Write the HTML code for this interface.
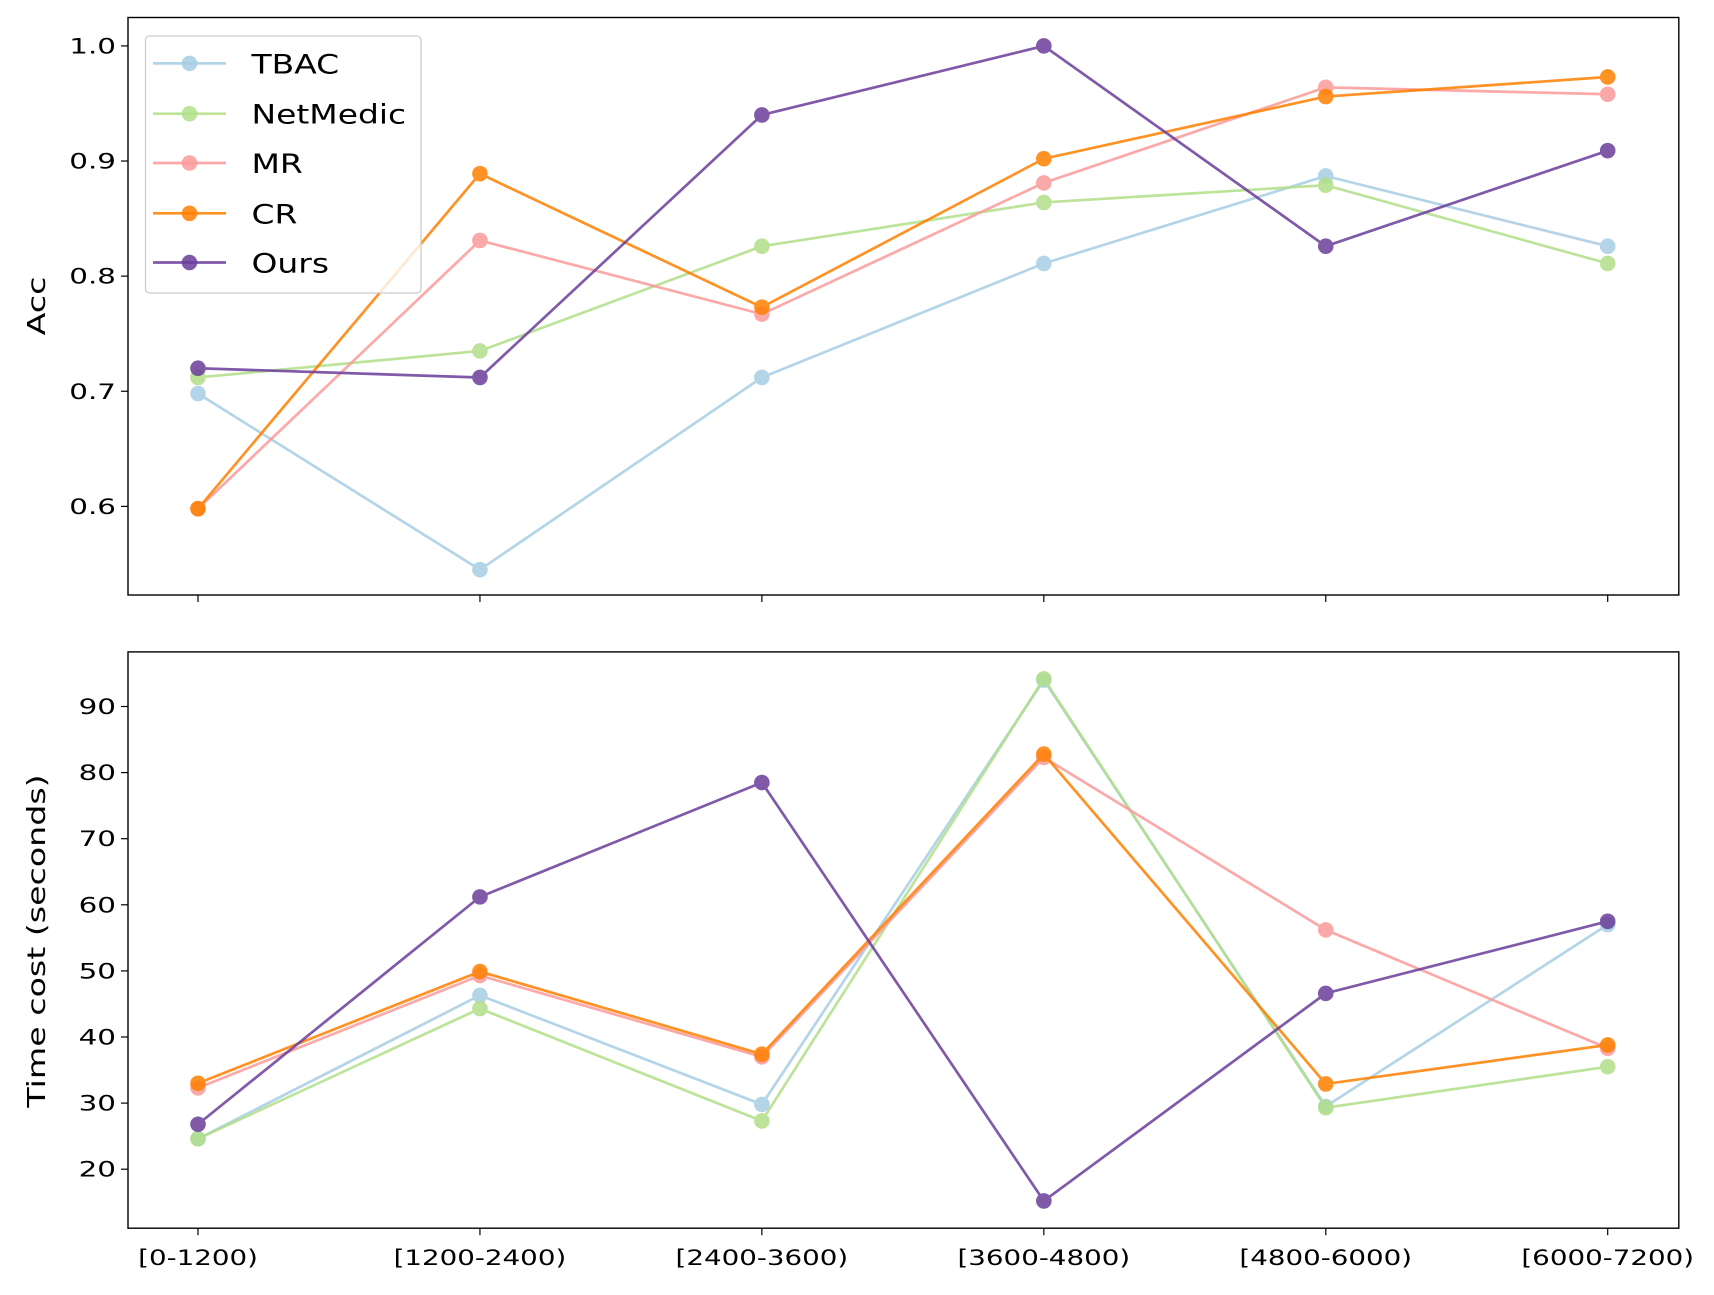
<!DOCTYPE html>
<html><head><meta charset="utf-8"><style>
body{margin:0;background:#fff}
svg{display:block;font-family:"DejaVu Sans","Liberation Sans",sans-serif}
</style></head><body>
<svg id="chart" width="1714" height="1295" xmlns="http://www.w3.org/2000/svg"></svg>
<script>
const categories=["[0-1200)","[1200-2400)","[2400-3600)","[3600-4800)","[4800-6000)","[6000-7200)"];
const seriesNames=["TBAC","NetMedic","MR","CR","Ours"];
const colors=["#a6cee3","#b2df8a","#fb9a99","#ff7f00","#6a3d9a"];
const accTBAC=[0.698,0.545,0.712,0.811,0.887,0.826];
const accNetMedic=[0.712,0.735,0.826,0.864,0.879,0.811];
const accMR=[0.598,0.831,0.767,0.881,0.964,0.958];
const accCR=[0.598,0.889,0.773,0.902,0.956,0.973];
const accOurs=[0.720,0.712,0.940,1.000,0.826,0.909];
const timeTBAC=[24.6,46.3,29.8,94.0,29.5,57.0];
const timeNetMedic=[24.6,44.3,27.3,94.2,29.3,35.5];
const timeMR=[32.3,49.3,37.0,82.3,56.2,38.3];
const timeCR=[33.0,49.9,37.4,82.8,32.9,38.8];
const timeOurs=[26.8,61.2,78.5,15.2,46.6,57.5];
const accTicks=[0.6,0.7,0.8,0.9,1.0];
const accTickLabels=["0.6","0.7","0.8","0.9","1.0"];
const timeTicks=[20,30,40,50,60,70,80,90];
const timeTickLabels=["20","30","40","50","60","70","80","90"];

const NS="http://www.w3.org/2000/svg";
const svg=document.getElementById('chart');
function mk(tag,attrs,parent){const e=document.createElementNS(NS,tag);for(const k in attrs)e.setAttribute(k,attrs[k]);(parent||svg).appendChild(e);return e;}
const L=128.0,R=1678.8;
const xScale=i=>198.0+i*281.94;
const yAcc=v=>45.9+(1.0-v)*1151.2;
const yTime=v=>706.5+(90-v)*6.61;

function panel(top,bottom,name,ticks,labels,yf,data,ylabel,ylabelY,showX){
  const g=mk('g',{});
  
  
  ticks.forEach((t,i)=>{
    const y=yf(t);
    const l=mk('line',{x1:L-7,x2:L,y1:y,y2:y,stroke:'#000','stroke-width':1.2},g);
    
    
    const tx=mk('text',{x:0,y:0,'text-anchor':'end','font-size':21,transform:`translate(${L-12},${y+7.5}) scale(1.4,1)`},g);
    tx.textContent=labels[i];
    
    
  });
  categories.forEach((c,i)=>{
    const x=xScale(i);
    const l=mk('line',{x1:x,x2:x,y1:bottom,y2:bottom+7,stroke:'#000','stroke-width':1.2},g);
    
    
    if(showX){
      const tx=mk('text',{x:0,y:0,'text-anchor':'middle','font-size':21,transform:`translate(${x},${bottom+37}) scale(1.32,1)`},g);
      tx.textContent=c;
      
      
    }
  });
  const yl=mk('text',{x:0,y:0,'text-anchor':'middle','font-size':25,transform:`translate(45,${ylabelY}) rotate(-90) scale(1.33,1)`},g);
  yl.textContent=ylabel;
  
  
  data.forEach((arr,s)=>{
    const sg=mk('g',{opacity:0.85},g);
    
    
    const pts=arr.map((v,i)=>xScale(i)+','+yf(v)).join(' ');
    const pl=mk('polyline',{points:pts,fill:'none',stroke:colors[s],'stroke-width':2.7},sg);
    
    
    arr.forEach((v,i)=>{
      const c=mk('circle',{cx:xScale(i),cy:yf(v),r:7.8,fill:colors[s]},sg);
      
      
    });
  });
  const fr=mk('rect',{x:L,y:top,width:R-L,height:bottom-top,fill:'none',stroke:'#000','stroke-width':1.4},g);
  
  
}
panel(17.5,595,'acc-panel',accTicks,accTickLabels,yAcc,[accTBAC,accNetMedic,accMR,accCR,accOurs],'Acc',306,false);
panel(651.9,1228.2,'time-panel',timeTicks,timeTickLabels,yTime,[timeTBAC,timeNetMedic,timeMR,timeCR,timeOurs],'Time cost (seconds)',941,true);

const lg=mk('g',{});


mk('rect',{x:145.5,y:36,width:275.5,height:257,rx:4,fill:'#fff','fill-opacity':0.8,stroke:'#ccc','stroke-width':1.3},lg);
const ly=[63.4,113.7,163.0,213.3,262.5];
seriesNames.forEach((n,s)=>{
  const e=mk('g',{},lg);
  
  
  mk('line',{x1:153,x2:226,y1:ly[s],y2:ly[s],stroke:colors[s],'stroke-width':2.7,opacity:0.85},e);
  mk('circle',{cx:189.5,cy:ly[s],r:7.8,fill:colors[s],opacity:0.85},e);
  const t=mk('text',{x:0,y:0,'font-size':27,transform:`translate(251.5,${ly[s]+10}) scale(1.22,1)`},e);
  t.textContent=n;
});
</script>
</body></html>
